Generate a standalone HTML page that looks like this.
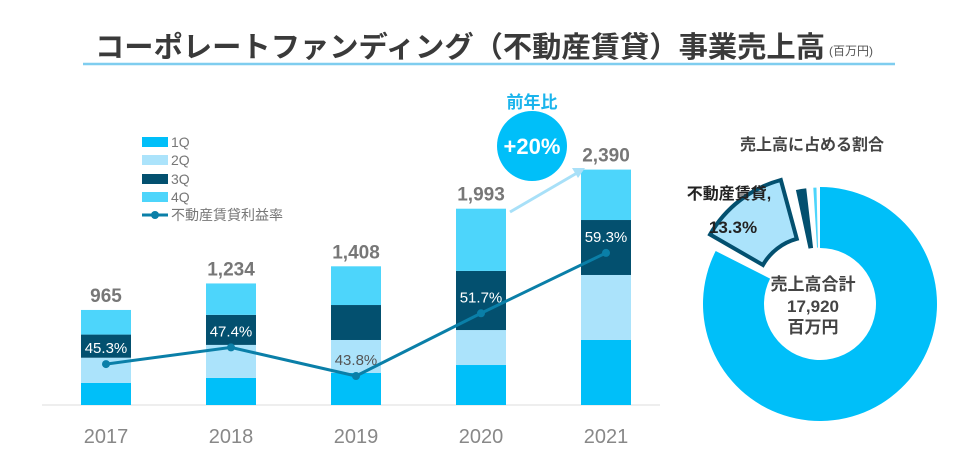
<!DOCTYPE html>
<html><head><meta charset="utf-8"><style>
html,body{margin:0;padding:0;background:#fff;}
svg{display:block;font-family:"Liberation Sans","Noto Sans CJK JP",sans-serif;}
</style></head><body>
<svg id="c" width="956" height="459" viewBox="0 0 956 459">
<text x="95" y="57" font-size="29" font-weight="bold" fill="#3a3a3a" textLength="730" lengthAdjust="spacingAndGlyphs">コーポレートファンディング（不動産賃貸）事業売上高</text>
<text x="829" y="55" font-size="12" fill="#555">(百万円)</text>
<line x1="83" y1="64" x2="895" y2="64" stroke="#7fcdef" stroke-width="2.5"/>
<line x1="42" y1="405" x2="660" y2="405" stroke="#ddd" stroke-width="1"/>
<g id="legend">
<rect x="142" y="137" width="26" height="10" fill="#00bff9"/><text x="171" y="147" font-size="14" fill="#777">1Q</text>
<rect x="142" y="155" width="26" height="10" fill="#abe3fb"/><text x="171" y="165" font-size="14" fill="#777">2Q</text>
<rect x="142" y="174" width="26" height="10" fill="#03506f"/><text x="171" y="184" font-size="14" fill="#777">3Q</text>
<rect x="142" y="192" width="26" height="10" fill="#4dd5fb"/><text x="171" y="202" font-size="14" fill="#777">4Q</text>
<line x1="142" y1="215" x2="168" y2="215" stroke="#0a7fa8" stroke-width="3"/><circle cx="155" cy="215" r="4" fill="#0a7fa8"/>
<text x="171" y="220" font-size="14" fill="#777">不動産賃貸利益率</text>
</g>
<g id="bars"></g>
<g id="line"></g>
<g id="yoy">
<line x1="510" y1="212" x2="577" y2="173" stroke="#a8e0f8" stroke-width="3"/>
<polygon points="585,168 572,168 578,178" fill="#a8e0f8"/>
<text x="532" y="108" font-size="17" font-weight="bold" fill="#1ab4ec" text-anchor="middle">前年比</text>
<circle cx="532" cy="146" r="35" fill="#00bff9"/>
<text x="532" y="154" font-size="22" font-weight="bold" fill="#fff" text-anchor="middle">+20%</text>
</g>
<text x="812" y="150" font-size="16" font-weight="bold" fill="#444" text-anchor="middle">売上高に占める割合</text>
<g id="donut"></g>
<text x="729" y="199" font-size="16" font-weight="bold" fill="#222" text-anchor="middle">不動産賃貸,</text>
<text x="733" y="233" font-size="17" font-weight="bold" fill="#222" text-anchor="middle">13.3%</text>
<text x="813" y="290" font-size="17" font-weight="bold" fill="#444" text-anchor="middle">売上高合計</text>
<text x="813" y="312" font-size="17" font-weight="bold" fill="#444" text-anchor="middle">17,920</text>
<text x="813" y="333" font-size="17" font-weight="bold" fill="#444" text-anchor="middle">百万円</text>
</svg>
<script>
const years=["2017","2018","2019","2020","2021"];
const q1=[225,275,325,406,660];
const q2=[255,335,335,355,660];
const q3=[235,305,355,600,558];
const q4=[250,319,393,632,512];
const totals=["965","1,234","1,408","1,993","2,390"];
const margin=[45.3,47.4,43.8,51.7,59.3];
const pieShares=[82.9,13.3,2.4,1.4];
const NS="http://www.w3.org/2000/svg";
function mk(t,a,p){const e=document.createElementNS(NS,t);for(const k in a)e.setAttribute(k,a[k]);p.appendChild(e);return e;}
const xC=i=>106+i*125, bw=50, base=405;
const yV=v=>base-v*0.0985;
const yP=v=>376-(v-43.8)*7.94;
const colors=["#00bff9","#abe3fb","#03506f","#4dd5fb"];
const series=[q1,q2,q3,q4];
const gb=document.getElementById('bars');
years.forEach((yr,i)=>{
  let cum=0;
  series.forEach((s,k)=>{
    const r=mk('rect',{x:xC(i)-bw/2,y:yV(cum+s[i]),width:bw,height:yV(cum)-yV(cum+s[i]),fill:colors[k]},gb);
    
    
    cum+=s[i];
  });
  const t=mk('text',{x:xC(i),y:yV(cum)-8,'font-size':19,'font-weight':'bold',fill:'#777','text-anchor':'middle'},gb);
  t.textContent=totals[i];
  
  
  const xl=mk('text',{x:xC(i),y:443,'font-size':20,fill:'#888','text-anchor':'middle'},gb);
  xl.textContent=yr;
  
  
});
const gl=document.getElementById('line');
const pl=mk('polyline',{points:margin.map((v,i)=>xC(i)+','+yP(v)).join(' '),fill:'none',stroke:'#0a7fa8','stroke-width':3},gl);


margin.forEach((v,i)=>{
  const c=mk('circle',{cx:xC(i),cy:yP(v),r:4,fill:'#0a7fa8'},gl);
  
  
  const t=mk('text',{x:xC(i),y:yP(v)-11,'font-size':15,fill:i==2?'#555':'#fff','text-anchor':'middle'},gl);
  t.textContent=v.toFixed(1)+'%';
  
  
});
const gd=document.getElementById('donut');
const cx=820,cy=304,R=117,r0=56;
const dcol=["#00bff9","#abe3fb","#03506f","#4dd5fb"];
const dnames=["donut-slice-other","donut-slice-real-estate","donut-slice-small-a","donut-slice-small-b"];
let a0=0;
const tot=pieShares.reduce((a,b)=>a+b,0);
pieShares.forEach((s,k)=>{
  const span=s/tot*360;
  let s0=a0+(k?1.5:0), s1=a0+span-1.5;
  const mid=(s0+s1)/2*Math.PI/180;
  const off=k==1?14:0;
  const ox=cx+off*Math.sin(mid), oy=cy-off*Math.cos(mid);
  const P=(rad,deg)=>[ox+rad*Math.sin(deg*Math.PI/180),oy-rad*Math.cos(deg*Math.PI/180)];
  const large=(s1-s0)>180?1:0;
  const p1=P(R,s0),p2=P(R,s1),p3=P(r0,s1),p4=P(r0,s0);
  const d=`M${p1} A${R},${R} 0 ${large} 1 ${p2} L${p3} A${r0},${r0} 0 ${large} 0 ${p4} Z`;
  const attrs={d:d,fill:dcol[k]};
  if(k==1){attrs.stroke='#03506f';attrs['stroke-width']=4;attrs['stroke-linejoin']='miter';}
  if(k>1){attrs.stroke='#fff';attrs['stroke-width']=1;}
  const p=mk('path',attrs,gd);
  
  
  a0+=span;
});
</script>
</body></html>
